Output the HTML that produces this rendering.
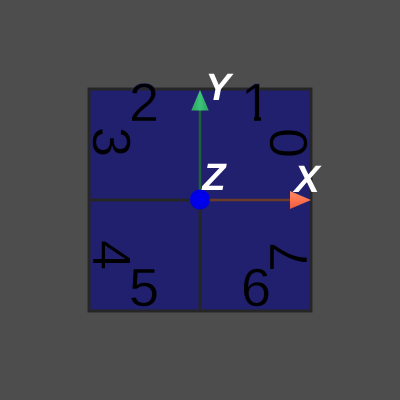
<!DOCTYPE html>
<html>
<head>
<meta charset="utf-8">
<style>
html,body{margin:0;padding:0;background:#4d4d4d;width:400px;height:400px;overflow:hidden}
svg{display:block}
.d{font-family:"Liberation Sans",sans-serif;font-size:54px;fill:#000;text-anchor:middle;stroke:#20206f;stroke-width:0.5px}
.a{font-family:"Liberation Sans",sans-serif;font-size:38px;font-weight:bold;font-style:italic;fill:#fff;text-anchor:middle}
</style>
</head>
<body>
<svg xmlns="http://www.w3.org/2000/svg" width="400" height="400" viewBox="0 0 400 400">
<defs>
<linearGradient id="gy" x1="0" y1="0" x2="1" y2="0"><stop offset="0" stop-color="#2e9e5f"/><stop offset="0.5" stop-color="#3cc47a"/><stop offset="1" stop-color="#2f9f60"/></linearGradient>
<linearGradient id="gx" x1="0" y1="0" x2="0" y2="1"><stop offset="0" stop-color="#ff8a60"/><stop offset="0.5" stop-color="#ff7350"/><stop offset="1" stop-color="#e85a3c"/></linearGradient>
<radialGradient id="gz" cx="0.5" cy="0.45" r="0.6"><stop offset="0" stop-color="#0000f4"/><stop offset="0.8" stop-color="#0000e0"/><stop offset="1" stop-color="#0000b8"/></radialGradient>
<clipPath id="one-clip"><path d="M240 70H270V116H261V125H254V116H240Z"/></clipPath>
</defs>
<rect width="400" height="400" fill="#4d4d4d"/>
<rect x="89" y="89" width="222" height="222" fill="#20206f" stroke="#262626" stroke-width="3"/>
<line x1="89" y1="200" x2="200" y2="200" stroke="#252525" stroke-width="3"/>
<line x1="200" y1="200" x2="200" y2="311" stroke="#252525" stroke-width="3"/>

<text class="d" x="144" y="121">2</text>
<g clip-path="url(#one-clip)"><text class="d" x="256" y="121">1</text></g>
<text class="d" x="144" y="306">5</text>
<text class="d" x="256" y="306">6</text>
<text class="d" transform="translate(93,142) rotate(90)">3</text>
<text class="d" transform="translate(93,255) rotate(90)">4</text>
<text class="d" transform="translate(307,143) rotate(-90)">0</text>
<text class="d" transform="translate(307,257) rotate(-90)">7</text>

<line x1="200" y1="200" x2="200" y2="110" stroke="#1f6038" stroke-width="2.6"/>
<line x1="200" y1="200" x2="290" y2="200" stroke="#6a3c28" stroke-width="2.6"/>
<polygon points="200,90 208.800,110.500 191.200,110.500" fill="url(#gy)"/>
<polygon points="311,200 290,191 290,209" fill="url(#gx)"/>
<circle cx="200" cy="199.500" r="10" fill="url(#gz)"/>

<text class="a" x="218" y="100">Y</text>
<text class="a" x="307" y="192">X</text>
<text class="a" x="214" y="190">Z</text>
</svg>
</body>
</html>
